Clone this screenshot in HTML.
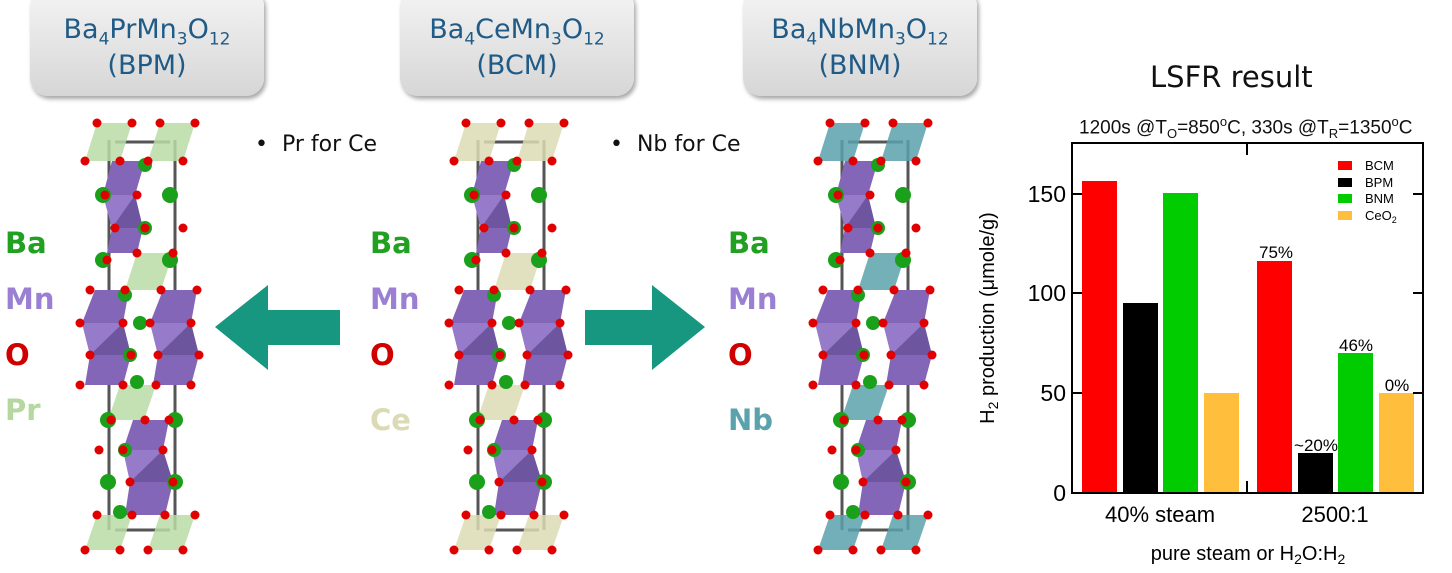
<!DOCTYPE html>
<html><head><meta charset="utf-8"><style>
body{margin:0;width:1452px;height:573px;background:#fff;overflow:hidden;position:relative;font-family:"Liberation Sans",sans-serif}
.box{position:absolute;top:-12px;width:234px;height:108px;border-radius:18px;background:linear-gradient(#f4f4f4,#d6d6d6);box-shadow:2px 3px 4px rgba(0,0,0,.35);color:#1f5b86;font-family:"DejaVu Sans",sans-serif;font-size:27px;text-align:center;line-height:36px;box-sizing:border-box;padding-top:24px}
.box sub{font-size:17px;line-height:0}
.el{position:absolute;font-family:"DejaVu Sans",sans-serif;font-weight:bold;font-size:29px}
.bul{position:absolute;font-family:"DejaVu Sans",sans-serif;font-size:22px;color:#111}
.t{position:absolute;color:#111;white-space:nowrap}
</style></head><body>
<div class="box" style="left:30px">Ba<sub>4</sub>PrMn<sub>3</sub>O<sub>12</sub><br>(BPM)</div>
<div class="box" style="left:400px">Ba<sub>4</sub>CeMn<sub>3</sub>O<sub>12</sub><br>(BCM)</div>
<div class="box" style="left:743px">Ba<sub>4</sub>NbMn<sub>3</sub>O<sub>12</sub><br>(BNM)</div>

<svg width="1452" height="573" style="position:absolute;left:0;top:0">
<defs>
<g id="st">
<g stroke="#555" stroke-width="3"><line x1="34" y1="20" x2="34" y2="410"/><line x1="100" y1="20" x2="100" y2="410"/><line x1="40" y1="22" x2="95" y2="22"/><line x1="40" y1="410" x2="95" y2="410"/></g>
<g fill="currentColor" opacity=".85">
<polygon points="22,3 57,3 45,41 10,41"/><polygon points="85,3 120,3 108,41 73,41"/>
<polygon points="62,133 98,133 86,170 50,170"/>
<polygon points="45,265 81,265 69,300 33,300"/>
<polygon points="22,395 57,395 45,430 10,430"/><polygon points="85,395 120,395 108,430 73,430"/>
</g>
<g fill="#8466b8">
<polygon points="37,41 70,41 60,75 68,108 62,133 32,133 37,108 28,75"/>
<polygon points="20,170 54,170 48,203 56,235 48,265 10,265 15,235 7,203"/>
<polygon points="88,170 122,170 116,203 124,235 116,265 78,265 83,235 75,203"/>
<polygon points="58,300 94,300 88,330 98,362 90,395 50,395 55,362 48,330"/>
</g>
<g fill="#5f4a8e" opacity=".6"><polygon points="60,75 37,108 68,108"/><polygon points="48,203 15,235 56,235"/><polygon points="116,203 83,235 124,235"/><polygon points="88,330 55,362 98,362"/></g>
<g fill="#9d85d0" opacity=".7"><polygon points="28,75 60,75 37,108"/><polygon points="7,203 48,203 15,235"/><polygon points="75,203 116,203 83,235"/><polygon points="48,330 88,330 55,362"/></g>
<g fill="#1aa01a"><circle cx="70" cy="45" r="7"/><circle cx="28" cy="75" r="8"/><circle cx="95" cy="75" r="8"/><circle cx="70" cy="108" r="7"/><circle cx="28" cy="140" r="8"/><circle cx="95" cy="140" r="8"/><circle cx="50" cy="175" r="7"/><circle cx="65" cy="203" r="7"/><circle cx="55" cy="235" r="7"/><circle cx="62" cy="262" r="7"/><circle cx="33" cy="300" r="8"/><circle cx="100" cy="300" r="8"/><circle cx="50" cy="330" r="7"/><circle cx="33" cy="362" r="8"/><circle cx="100" cy="362" r="8"/><circle cx="45" cy="392" r="7"/></g>
<g fill="#e00000"><circle cx="22" cy="3" r="4.5"/><circle cx="57" cy="3" r="4.5"/><circle cx="85" cy="3" r="4.5"/><circle cx="120" cy="3" r="4.5"/><circle cx="10" cy="41" r="4.5"/><circle cx="45" cy="41" r="4.5"/><circle cx="73" cy="41" r="4.5"/><circle cx="108" cy="41" r="4.5"/><circle cx="30" cy="75" r="4.5"/><circle cx="62" cy="75" r="4.5"/><circle cx="40" cy="108" r="4.5"/><circle cx="70" cy="108" r="4.5"/><circle cx="108" cy="108" r="4.5"/><circle cx="32" cy="140" r="4.5"/><circle cx="62" cy="133" r="4.5"/><circle cx="98" cy="133" r="4.5"/><circle cx="15" cy="170" r="4.5"/><circle cx="50" cy="170" r="4.5"/><circle cx="86" cy="170" r="4.5"/><circle cx="122" cy="170" r="4.5"/><circle cx="5" cy="203" r="4.5"/><circle cx="48" cy="203" r="4.5"/><circle cx="75" cy="203" r="4.5"/><circle cx="116" cy="203" r="4.5"/><circle cx="15" cy="235" r="4.5"/><circle cx="56" cy="235" r="4.5"/><circle cx="83" cy="235" r="4.5"/><circle cx="124" cy="235" r="4.5"/><circle cx="5" cy="265" r="4.5"/><circle cx="48" cy="265" r="4.5"/><circle cx="81" cy="265" r="4.5"/><circle cx="116" cy="265" r="4.5"/><circle cx="36" cy="300" r="4.5"/><circle cx="70" cy="300" r="4.5"/><circle cx="94" cy="300" r="4.5"/><circle cx="24" cy="330" r="4.5"/><circle cx="48" cy="330" r="4.5"/><circle cx="88" cy="330" r="4.5"/><circle cx="55" cy="362" r="4.5"/><circle cx="98" cy="362" r="4.5"/><circle cx="22" cy="395" r="4.5"/><circle cx="57" cy="395" r="4.5"/><circle cx="90" cy="395" r="4.5"/><circle cx="120" cy="395" r="4.5"/><circle cx="10" cy="430" r="4.5"/><circle cx="45" cy="430" r="4.5"/><circle cx="73" cy="430" r="4.5"/><circle cx="108" cy="430" r="4.5"/></g>
</g>
</defs>
<use href="#st" x="75" y="120" style="color:#b9dca6"/>
<use href="#st" x="444" y="120" style="color:#dcdcb4"/>
<use href="#st" x="808" y="120" style="color:#5aa2ac"/>
<polygon points="215,327 268,285 268,310 340,310 340,345 268,345 268,370" fill="#17977f"/>
<polygon points="705,327 652,285 652,310 585,310 585,345 652,345 652,370" fill="#17977f"/>
</svg>

<div class="el" style="left:5px;top:226px;color:#21a021">Ba</div>
<div class="el" style="left:5px;top:282px;color:#9a7fd2">Mn</div>
<div class="el" style="left:5px;top:338px;color:#d00000">O</div>
<div class="el" style="left:5px;top:393px;color:#b5d8a0">Pr</div>
<div class="el" style="left:370px;top:226px;color:#21a021">Ba</div>
<div class="el" style="left:370px;top:282px;color:#9a7fd2">Mn</div>
<div class="el" style="left:370px;top:338px;color:#d00000">O</div>
<div class="el" style="left:370px;top:403px;color:#dadab4">Ce</div>
<div class="el" style="left:728px;top:226px;color:#21a021">Ba</div>
<div class="el" style="left:728px;top:282px;color:#9a7fd2">Mn</div>
<div class="el" style="left:728px;top:338px;color:#d00000">O</div>
<div class="el" style="left:728px;top:403px;color:#5aa2ac">Nb</div>
<div class="bul" style="left:255px;top:132px">•&nbsp; Pr for Ce</div>
<div class="bul" style="left:610px;top:132px">•&nbsp; Nb for Ce</div>

<div class="t" style="left:1150px;top:60px;font-size:29px;font-family:'DejaVu Sans',sans-serif">LSFR result</div>
<div class="t" style="left:1079px;top:114px;font-size:19px">1200s @T<sub style="font-size:13px">O</sub>=850<sup style="font-size:13px">o</sup>C, 330s @T<sub style="font-size:13px">R</sub>=1350<sup style="font-size:13px">o</sup>C</div>
<svg width="1452" height="573" style="position:absolute;left:0;top:0;font-family:'Liberation Sans',sans-serif">
<g>
<rect x="1082" y="181" width="35" height="312" fill="#ff0000"/>
<rect x="1123" y="303" width="35" height="190" fill="#000"/>
<rect x="1163" y="193" width="35" height="300" fill="#00cc00"/>
<rect x="1204" y="393" width="35" height="100" fill="#ffbe3c"/>
<rect x="1257" y="261" width="35" height="232" fill="#ff0000"/>
<rect x="1298" y="453" width="35" height="40" fill="#000"/>
<rect x="1338" y="353" width="35" height="140" fill="#00cc00"/>
<rect x="1379" y="393" width="35" height="100" fill="#ffbe3c"/>
</g>
<rect x="1072" y="143" width="351" height="350" fill="none" stroke="#000" stroke-width="2"/>
<g stroke="#000" stroke-width="2"><line x1="1072" y1="194" x2="1082" y2="194"/><line x1="1072" y1="293" x2="1082" y2="293"/><line x1="1072" y1="393" x2="1082" y2="393"/><line x1="1413" y1="194" x2="1423" y2="194"/><line x1="1413" y1="293" x2="1423" y2="293"/><line x1="1413" y1="393" x2="1423" y2="393"/><line x1="1247" y1="143" x2="1247" y2="155"/><line x1="1247" y1="481" x2="1247" y2="493"/></g>
<g font-size="23" text-anchor="end"><text x="1066" y="202">150</text><text x="1066" y="301">100</text><text x="1066" y="401">50</text><text x="1066" y="501">0</text></g>
<g font-size="22" text-anchor="middle"><text x="1160" y="522">40% steam</text><text x="1335" y="522">2500:1</text>
<text x="1248" y="560" font-size="20">pure steam or H<tspan font-size="14" dy="4">2</tspan><tspan dy="-4">O:H</tspan><tspan font-size="14" dy="4">2</tspan></text></g>
<g font-size="17" text-anchor="middle"><text x="1276" y="258">75%</text><text x="1316" y="451">~20%</text><text x="1356" y="351">46%</text><text x="1397" y="391">0%</text></g>
<g font-size="13"><rect x="1338" y="161" width="14" height="9" fill="#f00"/><text x="1365" y="170">BCM</text>
<rect x="1338" y="178" width="14" height="9" fill="#000"/><text x="1365" y="187">BPM</text>
<rect x="1338" y="194" width="14" height="9" fill="#0c0"/><text x="1365" y="203">BNM</text>
<rect x="1338" y="211" width="14" height="9" fill="#ffbe3c"/><text x="1365" y="220">CeO<tspan font-size="9" dy="3">2</tspan></text></g>
<text transform="translate(994,318) rotate(-90)" font-size="20" text-anchor="middle">H<tspan font-size="14" dy="4">2</tspan><tspan dy="-4"> production (μmole/g)</tspan></text>
</svg>
</body></html>
